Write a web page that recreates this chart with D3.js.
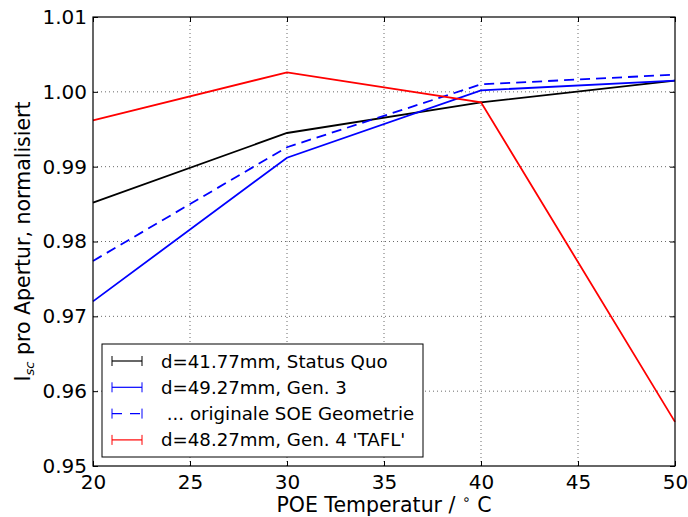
<!DOCTYPE html>
<html>
<head>
<meta charset="utf-8">
<script src="https://cdn.jsdelivr.net/npm/d3@7"></script>
<style>
  body { margin: 0; background: #fff; }
  svg { display: block; font-family: "DejaVu Sans", sans-serif; }
</style>
</head>
<body>
<div id="chart"></div>
<script>
// temperatures (x) and normalised Isc per aperture for each design
const temps = [20, 30, 40, 50];
const statusQuo = [0.9852, 0.9945, 0.9986, 1.0015];
const gen3 = [0.9720, 0.9912, 1.0002, 1.0015];
const gen3Orig = [0.9774, 0.9926, 1.0010, 1.0023];
const gen4 = [0.9962, 1.0026, 0.9986, 0.9559];
const seriesNames = [
  "d=41.77mm, Status Quo",
  "d=49.27mm, Gen. 3",
  " ... originale SOE Geometrie",
  "d=48.27mm, Gen. 4 'TAFL'"
];
const xTicks = [20, 25, 30, 35, 40, 45, 50];
const yTicks = [0.95, 0.96, 0.97, 0.98, 0.99, 1.00, 1.01];

const W = 688, H = 517;
const margin = {top: 17, right: 13, bottom: 51, left: 93};
const w = W - margin.left - margin.right;
const h = H - margin.top - margin.bottom;

const svg = d3.select("#chart").append("svg")
  .attr("width", W).attr("height", H);
const g = svg.append("g").attr("transform", `translate(${margin.left},${margin.top})`);

const x = d3.scaleLinear().domain([20, 50]).range([0, w]);
const y = d3.scaleLinear().domain([0.95, 1.01]).range([h, 0]);

// dotted grid
g.append("g").selectAll("line").data(xTicks.slice(1, -1)).join("line")
  .attr("x1", d => x(d)).attr("x2", d => x(d)).attr("y1", 0).attr("y2", h)
  .attr("stroke", "#444").attr("stroke-width", 0.8).attr("stroke-dasharray", "1,3");
g.append("g").selectAll("line").data(yTicks.slice(1, -1)).join("line")
  .attr("y1", d => y(d)).attr("y2", d => y(d)).attr("x1", 0).attr("x2", w)
  .attr("stroke", "#444").attr("stroke-width", 0.8).attr("stroke-dasharray", "1,3");

// series
const series = [
  {vals: statusQuo, color: "#000", dash: null},
  {vals: gen3, color: "#0000ff", dash: null},
  {vals: gen3Orig, color: "#0000ff", dash: "10,6"},
  {vals: gen4, color: "#ff0000", dash: null}
];
const line = d3.line().x((d, i) => x(temps[i])).y(d => y(d));
series.forEach(s => {
  g.append("path").datum(s.vals)
    .attr("d", line).attr("fill", "none")
    .attr("stroke", s.color).attr("stroke-width", 1.8)
    .attr("stroke-dasharray", s.dash);
});

// axes with inward ticks on all four sides
const tickLen = 5;
const xb = g.append("g").attr("transform", `translate(0,${h})`)
  .call(d3.axisBottom(x).tickValues(xTicks).tickSizeInner(-tickLen).tickSizeOuter(0).tickPadding(9).tickFormat(d3.format("d")));
const xt = g.append("g")
  .call(d3.axisTop(x).tickValues(xTicks).tickSizeInner(-tickLen).tickSizeOuter(0).tickFormat(""));
const yl = g.append("g")
  .call(d3.axisLeft(y).tickValues(yTicks).tickSizeInner(-tickLen).tickSizeOuter(0).tickPadding(6).tickFormat(d3.format(".2f")));
const yr = g.append("g").attr("transform", `translate(${w},0)`)
  .call(d3.axisRight(y).tickValues(yTicks).tickSizeInner(-tickLen).tickSizeOuter(0).tickFormat(""));
[xb, xt, yl, yr].forEach(a => {
  a.select(".domain").remove();
  a.selectAll("line").attr("stroke", "#000");
  a.selectAll("text").attr("font-size", 20).attr("fill", "#000")
    .attr("font-family", "DejaVu Sans, sans-serif");
});

g.append("rect").attr("width", w).attr("height", h)
  .attr("fill", "none").attr("stroke", "#000").attr("stroke-width", 1.2);

// axis titles
const xTitle = svg.append("text")
  .attr("x", margin.left + w / 2).attr("y", 511.5)
  .attr("text-anchor", "middle").attr("font-size", 20.5)
  .attr("xml:space", "preserve").style("white-space", "pre");
xTitle.append("tspan").text("POE Temperatur / ");
xTitle.append("tspan").attr("dy", -8).attr("font-size", 14).text("∘");
xTitle.append("tspan").attr("dy", 8).text(" C");

const yTitle = svg.append("text")
  .attr("transform", `translate(30,${margin.top + h / 2}) rotate(-90)`)
  .attr("text-anchor", "middle").attr("font-size", 20.5);
yTitle.append("tspan").text("I");
yTitle.append("tspan").attr("dy", 4).attr("font-size", 13).attr("font-style", "italic").text("sc");
yTitle.append("tspan").attr("dy", -4).text(" pro Apertur, normalisiert");

// legend
const leg = svg.append("g").attr("transform", "translate(102,344)");
leg.append("rect").attr("width", 321).attr("height", 113)
  .attr("fill", "#fff").attr("stroke", "#000").attr("stroke-width", 1);
seriesNames.forEach((name, i) => {
  const s = series[i];
  const yy = 17 + i * 26.3;
  const row = leg.append("g").attr("transform", `translate(0,${yy})`);
  row.append("line").attr("x1", 10).attr("x2", 40)
    .attr("stroke", s.color).attr("stroke-width", 1.2)
    .attr("stroke-dasharray", s.dash ? "10,8" : null);
  [10, 40].forEach(cx => row.append("line")
    .attr("x1", cx).attr("x2", cx).attr("y1", -5).attr("y2", 5)
    .attr("stroke", s.color).attr("stroke-width", 1));
  row.append("text").attr("x", 59).attr("y", 6.5).attr("font-size", 18.2)
    .attr("xml:space", "preserve").style("white-space", "pre").text(name);
});
</script>
</body>
</html>
